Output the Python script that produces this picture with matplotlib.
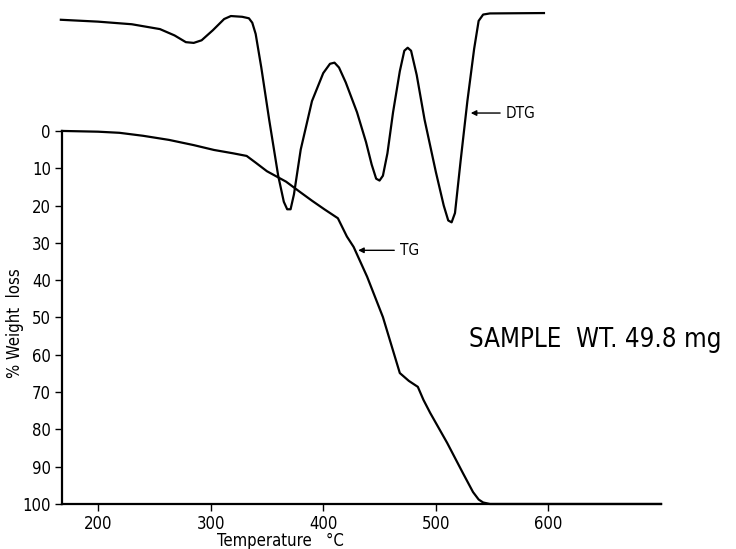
import matplotlib.pyplot as plt

# TG curve (% weight loss vs temperature)
tg_temp = [168, 200, 219, 240, 263, 285, 303, 320, 332, 340, 350, 367, 380, 390,
           401, 413, 421, 427, 439, 453, 468, 476, 484, 489, 495, 510, 524, 533,
           538, 542, 548, 600, 650, 700]
tg_loss = [0, 0.2, 0.5, 1.3, 2.4, 3.8, 5.1, 6.0, 6.7, 8.5, 10.8, 13.6, 16.5, 18.7,
           21.0, 23.4, 28.3, 31.1, 39.1, 49.9, 64.9, 67.0, 68.6, 72.1, 75.6, 83.6,
           91.7, 96.8, 98.8, 99.6, 100, 100, 100, 100]

# DTG curve (arbitrary units, drawn above the TG axis)
dtg_temp = [167, 200, 230, 255, 268, 278, 285, 292, 302, 312, 318, 328, 334, 337,
            340, 345, 352, 360, 365, 368, 371, 374, 380, 390, 400, 406, 410, 414,
            420, 430, 438, 443, 447, 450, 453, 457, 462, 468, 472, 475, 478, 483,
            490, 500, 507, 511, 514, 517, 522, 528, 534, 538, 542, 548, 596]
dtg_val = [-29.8, -29.3, -28.6, -27.3, -25.6, -23.8, -23.6, -24.3, -27.0, -30.0,
           -30.8, -30.6, -30.2, -29.0, -26.0, -17.0, -3.0, 12.0, 19.0, 21.0, 21.0,
           17.0, 5.0, -8.0, -15.5, -18.0, -18.3, -17.0, -13.0, -5.0, 3.0, 9.0,
           12.8, 13.3, 12.0, 6.0, -5.0, -16.0, -21.5, -22.3, -21.5, -15.0, -3.0,
           11.0, 20.0, 24.0, 24.5, 22.0, 8.0, -8.0, -22.0, -29.5, -31.2, -31.5, -31.6]

x_ticks = [200, 300, 400, 500, 600]
y_ticks = [0, 10, 20, 30, 40, 50, 60, 70, 80, 90, 100]

plt.rcParams['font.family'] = ['DejaVu Sans']
plt.rcParams['font.stretch'] = 'condensed'

fig = plt.figure(figsize=(7.36, 5.49), dpi=100)
ax = fig.add_axes([0.0842, 0.082, 0.814, 0.918])

ax.plot(tg_temp, tg_loss, color='black', lw=1.6, clip_on=False)
ax.plot(dtg_temp, dtg_val, color='black', lw=1.6, clip_on=False)

ax.set_xlim(168, 700)
ax.set_ylim(100, -35.1)
ax.spines['top'].set_visible(False)
ax.spines['right'].set_visible(False)
ax.spines['left'].set_bounds(0, 100)
ax.spines['left'].set_linewidth(1.6)
ax.spines['bottom'].set_linewidth(1.6)

ax.set_xticks(x_ticks)
ax.set_yticks(y_ticks)
ax.tick_params(axis='both', direction='out', length=5, width=1, labelsize=12, pad=3)

ax.text(362, 110, 'Temperature   °C', fontsize=12, ha='center', va='center',
        clip_on=False)
fig.text(0.02, 1 - 323 / 549, '% Weight  loss', fontsize=12, rotation=90,
         ha='center', va='center')

ax.annotate('TG', xy=(431, 32), xytext=(468, 32), fontsize=11, va='center',
            arrowprops=dict(arrowstyle='-|>', color='black', lw=1,
                            mutation_scale=8, shrinkA=2, shrinkB=0))
ax.annotate('DTG', xy=(531, -4.8), xytext=(562, -4.8), fontsize=11, va='center',
            arrowprops=dict(arrowstyle='-|>', color='black', lw=1,
                            mutation_scale=8, shrinkA=2, shrinkB=0))

ax.text(529, 56, 'SAMPLE  WT. 49.8 mg', fontsize=18.5, va='center', ha='left')

fig.savefig('out.png', dpi=100)
